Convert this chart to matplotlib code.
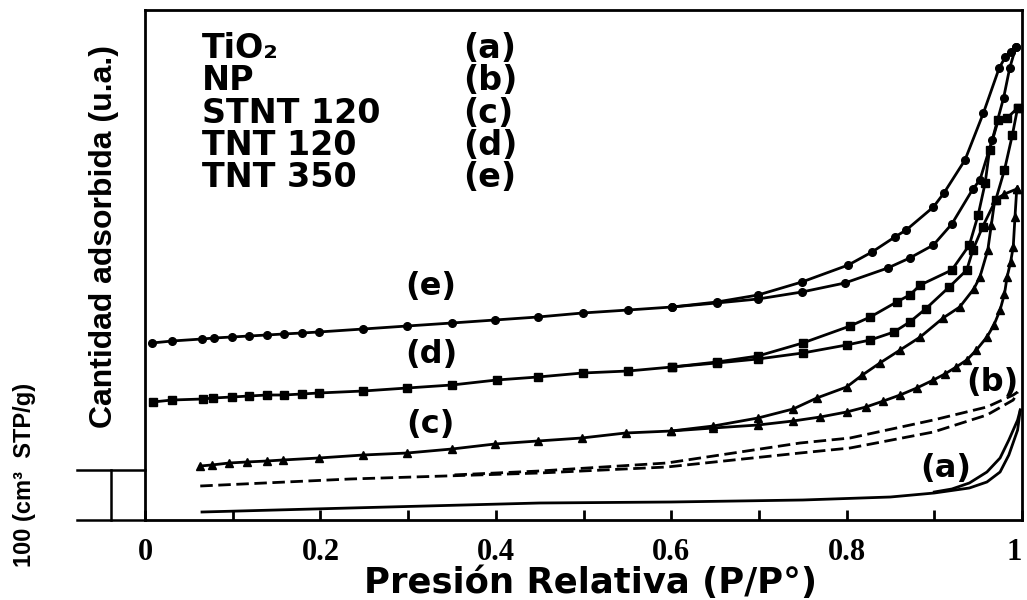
import numpy as np
import matplotlib
matplotlib.use("Agg")
import matplotlib.pyplot as plt
from matplotlib import font_manager as fm

# N2 isotherms (y in cm3 STP/g, curves offset)
A_ADS_X = [0.065, 0.234, 0.45, 0.6, 0.75, 0.85, 0.9, 0.94, 0.96, 0.975, 0.985, 0.995, 0.998]
A_ADS_Y = [16, 24, 34, 36, 40, 46, 54, 64, 76, 96, 130, 180, 220]
A_DES_X = [0.998, 0.995, 0.985, 0.975, 0.96, 0.94, 0.92, 0.9]
A_DES_Y = [220, 200, 160, 124, 96, 74, 62, 56]

B_ADS_X = [0.063, 0.234, 0.45, 0.595, 0.747, 0.804, 0.899, 0.96, 0.99, 0.995]
B_ADS_Y = [68, 82, 94, 106, 134, 144, 176, 210, 240, 256]
B_DES_X = [0.995, 0.99, 0.96, 0.899, 0.804, 0.747, 0.595, 0.45, 0.35]
B_DES_Y = [256, 250, 226, 200, 164, 154, 114, 98, 90]

C_ADS_X = [0.063, 0.076, 0.096, 0.116, 0.139, 0.157, 0.198, 0.249, 0.299, 0.350, 0.399, 0.448,
           0.498, 0.548, 0.600, 0.648, 0.699, 0.739, 0.770, 0.800, 0.822, 0.842, 0.861, 0.880,
           0.899, 0.912, 0.925, 0.937, 0.948, 0.960, 0.968, 0.975, 0.980, 0.983, 0.987, 0.990,
           0.992, 0.994]
C_ADS_Y = [108, 110, 114, 116, 118, 120, 124, 130, 134, 142, 152, 158, 164, 174, 178, 184, 190,
           198, 206, 216, 226, 238, 250, 264, 280, 292, 306, 320, 340, 366, 390, 420, 452, 486,
           516, 546, 606, 662]
C_DES_X = [0.994, 0.980, 0.969, 0.965, 0.961, 0.952, 0.945, 0.929, 0.910, 0.884, 0.861, 0.838,
           0.818, 0.800, 0.766, 0.739, 0.699, 0.648, 0.600]
C_DES_Y = [662, 652, 640, 590, 540, 486, 462, 426, 404, 366, 340, 314, 290, 266, 244, 222, 204,
           188, 178]

D_ADS_X = [0.009, 0.031, 0.066, 0.078, 0.099, 0.119, 0.139, 0.158, 0.179, 0.198, 0.249, 0.299,
           0.350, 0.401, 0.448, 0.499, 0.551, 0.601, 0.652, 0.699, 0.750, 0.800, 0.827, 0.854,
           0.872, 0.890, 0.917, 0.937, 0.944, 0.955, 0.970, 0.980, 0.989, 0.995]
D_ADS_Y = [236, 240, 242, 244, 246, 248, 250, 250, 252, 254, 258, 264, 270, 280, 286, 294, 298,
           306, 314, 322, 334, 350, 360, 376, 396, 422, 466, 500, 540, 586, 640, 700, 770, 824]
D_DES_X = [0.995, 0.983, 0.973, 0.963, 0.958, 0.950, 0.940, 0.920, 0.884, 0.872, 0.857, 0.827,
           0.804, 0.750, 0.699, 0.652, 0.601]
D_DES_Y = [824, 804, 800, 740, 674, 610, 550, 500, 470, 450, 436, 406, 388, 354, 328, 316, 306]

E_ADS_X = [0.008, 0.031, 0.065, 0.079, 0.099, 0.119, 0.139, 0.158, 0.179, 0.198, 0.249, 0.299,
           0.350, 0.399, 0.448, 0.499, 0.551, 0.601, 0.652, 0.699, 0.749, 0.798, 0.847, 0.872,
           0.899, 0.920, 0.944, 0.952, 0.966, 0.979, 0.986, 0.993]
E_ADS_Y = [354, 358, 362, 364, 366, 368, 370, 372, 374, 376, 382, 388, 394, 400, 406, 414, 420,
           426, 434, 442, 456, 474, 504, 524, 550, 592, 662, 680, 760, 844, 904, 946]
E_DES_X = [0.993, 0.987, 0.981, 0.974, 0.956, 0.935, 0.911, 0.899, 0.868, 0.855, 0.829, 0.802,
           0.749, 0.699, 0.652, 0.601]
E_DES_Y = [946, 936, 926, 904, 814, 720, 654, 626, 580, 566, 536, 510, 476, 450, 436, 426]

SAMPLES = ["TiO\u2082", "NP", "STNT 120", "TNT 120", "TNT 350"]
TAGS = ["(a)", "(b)", "(c)", "(d)", "(e)"]
XTICKS = [0, 0.2, 0.4, 0.6, 0.8, 1.0]
XTICKLABELS = ["0", "0.2", "0.4", "0.6", "0.8", "1"]

K = "black"
LW = 2.0
BOLD = dict(family="DejaVu Sans", fontweight="bold")

try:
    fm.findfont(fm.FontProperties(family="Liberation Sans Narrow"), fallback_to_default=False)
    YFAM, YSIZE = "Liberation Sans Narrow", 27
except ValueError:
    YFAM, YSIZE = "Liberation Sans", 23

fig = plt.figure(figsize=(10.27, 6.0), dpi=100)
ax = fig.add_axes([145 / 1027, 80 / 600, 877 / 1027, 510 / 600])
ax.set_xlim(0, 1)
ax.set_ylim(0, 1020)

# (a) TiO2 - plain line
ax.plot(A_ADS_X, A_ADS_Y, color=K, lw=LW)
ax.plot(A_DES_X, A_DES_Y, color=K, lw=LW)
# (b) NP - dashed
ax.plot(B_ADS_X, B_ADS_Y, color=K, lw=LW, ls=(0, (4.5, 2)))
ax.plot(B_DES_X, B_DES_Y, color=K, lw=LW, ls=(0, (4.5, 2)))
# (c)-(e) with markers
for xs, ys, mk, ms in [(C_ADS_X, C_ADS_Y, "^", 5.5), (C_DES_X, C_DES_Y, "^", 5.5),
                       (D_ADS_X, D_ADS_Y, "s", 5.5), (D_DES_X, D_DES_Y, "s", 5.5),
                       (E_ADS_X, E_ADS_Y, "o", 5.5), (E_DES_X, E_DES_Y, "o", 5.5)]:
    ax.plot(xs, ys, color=K, lw=LW, marker=mk, ms=ms, mfc=K, mec=K, clip_on=False)

# curve tags
for tag, (tx, ty) in zip(TAGS, [(0.913, 104), (0.966, 274), (0.326, 190), (0.327, 330), (0.326, 466)]):
    ax.text(tx, ty, tag, ha="center", va="center", fontsize=23, **BOLD)

# sample list, top left
for i, (name, tag) in enumerate(zip(SAMPLES, TAGS)):
    yy = 0.925 - i * 0.0635
    ax.text(0.065, yy, name, transform=ax.transAxes, ha="left", va="center", fontsize=24, **BOLD)
    ax.text(0.363, yy, tag, transform=ax.transAxes, ha="left", va="center", fontsize=24, **BOLD)

# axes styling
for s in ax.spines.values():
    s.set_linewidth(2.0)
ax.set_yticks([])
ax.set_xticks(XTICKS)
ax.set_xticklabels(XTICKLABELS, family="Liberation Serif", fontweight="bold", fontsize=22)
ax.get_xticklabels()[-1].set_horizontalalignment("right")
ax.set_xticks(np.arange(0.1, 1.0, 0.2), minor=True)
ax.tick_params(axis="x", which="both", direction="in", length=7, width=2, pad=13)

# 100 cm3/g scale bar left of the axis
ax.plot([-0.077, 0], [100, 100], color=K, lw=1.8, clip_on=False)
ax.plot([-0.077, 0], [0, 0], color=K, lw=1.8, clip_on=False)
ax.plot([-0.039, -0.039], [0, 100], color=K, lw=1.8, clip_on=False)

fig.text(25 / 1027, 1 - 475 / 600, "100 (cm\u00b3  STP/g)", rotation=90, ha="center", va="center",
         family="Liberation Sans", fontweight="bold", fontsize=17)
fig.text(104 / 1027, 1 - 236 / 600, "Cantidad adsorbida (u.a.)", rotation=90, ha="center",
         va="center", family=YFAM, fontweight="bold", fontsize=YSIZE)
fig.text(591 / 1027, 1 - 583 / 600, "Presi\u00f3n Relativa (P/P\u00b0)", ha="center", va="center",
         fontsize=25.5, **BOLD)

fig.savefig("out.png", dpi=100)
